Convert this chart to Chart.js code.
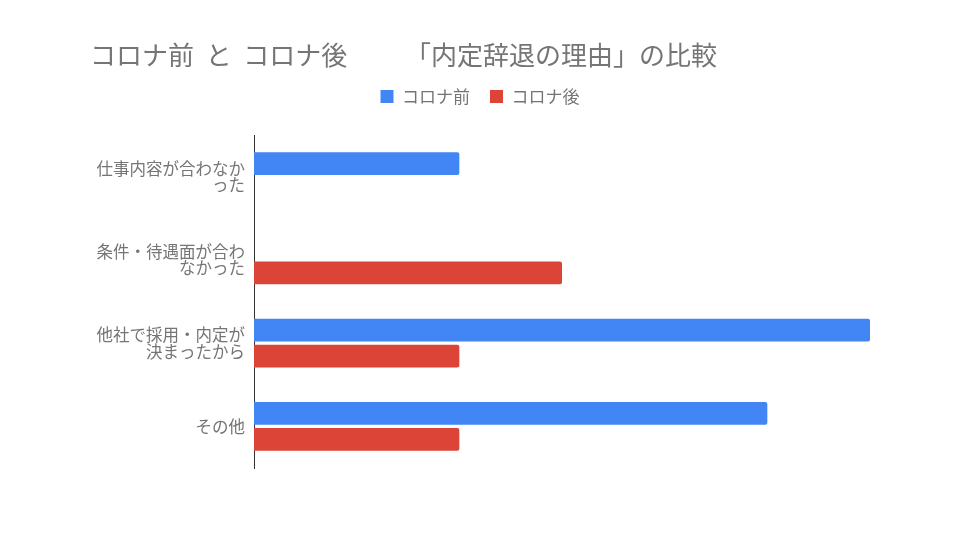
<!DOCTYPE html>
<html>
<head>
<meta charset="utf-8">
<script src="https://cdn.jsdelivr.net/npm/chart.js@4"></script>
<style>
  html, body { margin: 0; padding: 0; background: #fff; }
  #wrap { width: 960px; height: 540px; }
</style>
</head>
<body>
<div id="wrap"><canvas id="grafica" width="960" height="540"></canvas></div>
<script>
const categorias = [
  ['仕事内容が合わなか', 'った'],
  ['条件・待遇面が合わ', 'なかった'],
  ['他社で採用・内定が', '決まったから'],
  'その他'
];
const antes = [2, 0, 6, 5];
const despues = [0, 3, 2, 2];
const series = ['コロナ前', 'コロナ後'];

(function() {
  const ctx = document.querySelector('#grafica');
  const fuente = "'Noto Sans CJK JP', 'Noto Sans', sans-serif";
  const gris = '#757575';

  new Chart(ctx, {
    type: 'bar',
    data: {
      labels: categorias,
      datasets: [{
        label: series[0],
        data: antes,
        backgroundColor: '#4285f4',
        borderRadius: 2,
        barPercentage: 0.88,
        categoryPercentage: 0.62
      }, {
        label: series[1],
        data: despues,
        backgroundColor: '#db4437',
        borderRadius: 2,
        barPercentage: 0.88,
        categoryPercentage: 0.62
      }]
    },
    options: {
      indexAxis: 'y',
      responsive: false,
      animation: false,
      layout: { padding: { left: 90, right: 90, bottom: 72 } },
      scales: {
        x: {
          position: 'top',
          min: 0,
          max: 6,
          grid: { display: false },
          border: { display: false },
          ticks: { display: false },
          afterFit: scale => { scale.height = 20; }
        },
        y: {
          grid: { display: false },
          border: { display: true, color: '#333', width: 1 },
          ticks: {
            color: gris,
            padding: 1,
            font: { family: fuente, size: 16.5, lineHeight: 1.0 }
          },
          afterFit: scale => { scale.width = 164; }
        }
      },
      plugins: {
        title: {
          display: true,
          text: 'コロナ前  と  コロナ後　　 「内定辞退の理由」の比較',
          align: 'start',
          color: gris,
          font: { family: fuente, size: 26, weight: 'normal', lineHeight: 1.0 },
          padding: { top: 42, bottom: 0 }
        },
        legend: {
          labels: {
            color: gris,
            boxWidth: 13,
            boxHeight: 13,
            padding: 20,
            font: { family: fuente, size: 17 }
          }
        },
        tooltip: { enabled: false }
      }
    }
  });
})();
</script>
</body>
</html>
